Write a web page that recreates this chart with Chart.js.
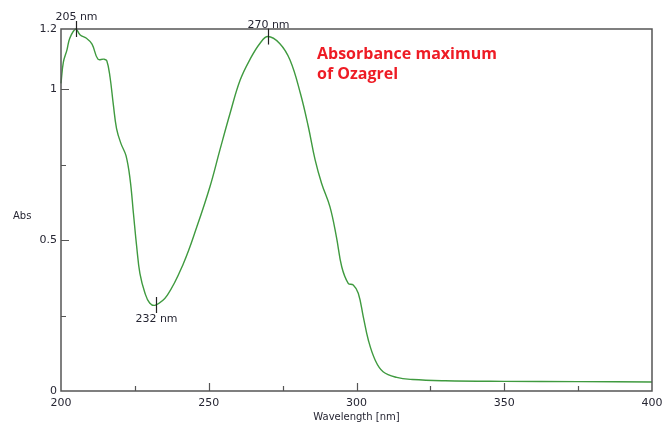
<!DOCTYPE html>
<html>
<head>
<meta charset="utf-8">
<script src="https://cdn.jsdelivr.net/npm/chart.js@4"></script>
<style>
  body { margin: 0; background: #fff; }
  canvas { display: block; }
</style>
</head>
<body>
<canvas id="spectrum" width="664" height="424"></canvas>
<script>
// spectrum (wavelength in nm, absorbance)
const wavelengths = [200, 200.8, 202, 203, 205, 206.5, 208.5, 210.5, 212.5, 214.5, 215.5, 216.6, 217.7, 218.8, 220.3, 222, 223.4, 224.5, 225.6, 226.7, 228.4, 230, 232, 236, 241.4, 246, 250.4, 253.8, 257.2, 260.6, 264, 267.3, 270, 274, 277.5, 281, 283.7, 286, 288.2, 291, 293.2, 295, 297.2, 298.9, 300.6, 302.3, 304, 306.3, 309, 313.6, 319, 330, 350, 375, 400];
const absorbance = [1.02, 1.09, 1.13, 1.17, 1.2, 1.18, 1.17, 1.15, 1.1, 1.1, 1.095, 1.04, 0.95, 0.87, 0.82, 0.78, 0.7, 0.59, 0.48, 0.39, 0.325, 0.292, 0.285, 0.318, 0.422, 0.545, 0.677, 0.8, 0.92, 1.03, 1.1, 1.152, 1.175, 1.152, 1.097, 0.987, 0.876, 0.766, 0.688, 0.611, 0.511, 0.412, 0.357, 0.351, 0.324, 0.246, 0.169, 0.103, 0.064, 0.045, 0.038, 0.034, 0.032, 0.031, 0.03];

const xLabelTicks = [200, 250, 300, 350, 400];
const xMarkTicks = [225, 250, 275, 300, 325, 350, 375];
const yLabelTicks = [0, 0.5, 1, 1.2];
const yMarkTicks = [0.25, 0.5, 0.75, 1];

const peakWavelengths = [205, 270, 232];
const peakLabels = ['205 nm', '270 nm', '232 nm'];
const peakBelow = [false, false, true];

const noteLines = ['Absorbance maximum', 'of Ozagrel'];

const textColor = '#262633';
const frameColor = '#555';

const points = wavelengths.map((w, i) => ({ x: w, y: absorbance[i] }));

// frame, inside tick marks, peak markers and the red note
const decorations = {
    id: 'decorations',
    afterDatasetsDraw(chart) {
        const ctx = chart.ctx;
        const a = chart.chartArea;
        const xs = chart.scales.x;
        const ys = chart.scales.y;
        ctx.save();

        ctx.strokeStyle = frameColor;
        ctx.lineWidth = 1.5;
        ctx.strokeRect(a.left, a.top, a.right - a.left, a.bottom - a.top);

        ctx.lineWidth = 1.2;
        ctx.beginPath();
        xMarkTicks.forEach(v => {
            const px = Math.round(xs.getPixelForValue(v)) + 0.5;
            const len = v % 50 === 0 ? 8 : 5;
            ctx.moveTo(px, a.bottom);
            ctx.lineTo(px, a.bottom - len);
        });
        yMarkTicks.forEach(v => {
            const py = Math.round(ys.getPixelForValue(v)) + 0.5;
            const len = v % 0.5 === 0 ? 8 : 5;
            ctx.moveTo(a.left, py);
            ctx.lineTo(a.left + len, py);
        });
        ctx.stroke();

        // peak / valley markers
        ctx.strokeStyle = '#222';
        ctx.fillStyle = textColor;
        ctx.font = '11px "DejaVu Sans"';
        ctx.textAlign = 'center';
        peakWavelengths.forEach((w, i) => {
            const idx = wavelengths.indexOf(w);
            const px = Math.round(xs.getPixelForValue(w)) + 0.5;
            const py = ys.getPixelForValue(absorbance[idx]);
            ctx.beginPath();
            ctx.moveTo(px, py - 8);
            ctx.lineTo(px, py + 8);
            ctx.stroke();
            if (peakBelow[i]) {
                ctx.textBaseline = 'top';
                ctx.fillText(peakLabels[i], px, py + 9);
            } else {
                ctx.textBaseline = 'bottom';
                ctx.fillText(peakLabels[i], px, py - 6);
            }
        });

        // axis name on the left
        ctx.textAlign = 'left';
        ctx.textBaseline = 'middle';
        ctx.font = '10px "DejaVu Sans"';
        ctx.fillText('Abs', 13, 216);

        // red note
        ctx.fillStyle = '#ee1c25';
        ctx.font = 'bold 16px "Open Sans"';
        ctx.textBaseline = 'alphabetic';
        noteLines.forEach((t, i) => ctx.fillText(t, 317, 59 + i * 20));

        ctx.restore();
    }
};

const chart = new Chart(document.getElementById('spectrum').getContext('2d'), {
    type: 'line',
    data: {
        datasets: [{
            data: points,
            borderColor: '#3f9a3f',
            borderWidth: 1.4,
            pointRadius: 0,
            tension: 0.4,
            fill: false,
            clip: 3
        }]
    },
    options: {
        responsive: false,
        animation: false,
        devicePixelRatio: 1,
        layout: { padding: { top: 29, right: 12, left: 0, bottom: 0 } },
        plugins: {
            legend: { display: false },
            tooltip: { enabled: false }
        },
        scales: {
            x: {
                type: 'linear',
                min: 200,
                max: 400,
                afterFit: s => { s.height = 33; s.paddingLeft = 0; s.paddingRight = 0; },
                afterBuildTicks: s => { s.ticks = xLabelTicks.map(v => ({ value: v })); },
                grid: { display: false, drawTicks: false, tickLength: 0 },
                border: { display: false },
                ticks: {
                    color: textColor,
                    font: { family: 'DejaVu Sans', size: 11 },
                    padding: 6,
                    maxRotation: 0,
                    autoSkip: false
                },
                title: {
                    display: true,
                    text: 'Wavelength [nm]',
                    color: textColor,
                    font: { family: 'DejaVu Sans', size: 10 },
                    padding: { top: 0, bottom: 1 }
                }
            },
            y: {
                min: 0,
                max: 1.2,
                afterFit: s => { s.width = 61; s.paddingTop = 0; s.paddingBottom = 0; },
                afterBuildTicks: s => { s.ticks = yLabelTicks.map(v => ({ value: v })); },
                grid: { display: false, drawTicks: false, tickLength: 0 },
                border: { display: false },
                ticks: {
                    color: textColor,
                    font: { family: 'DejaVu Sans', size: 11 },
                    padding: 4,
                    autoSkip: false,
                    callback: v => String(v)
                }
            }
        }
    },
    plugins: [decorations]
});
</script>
</body>
</html>
